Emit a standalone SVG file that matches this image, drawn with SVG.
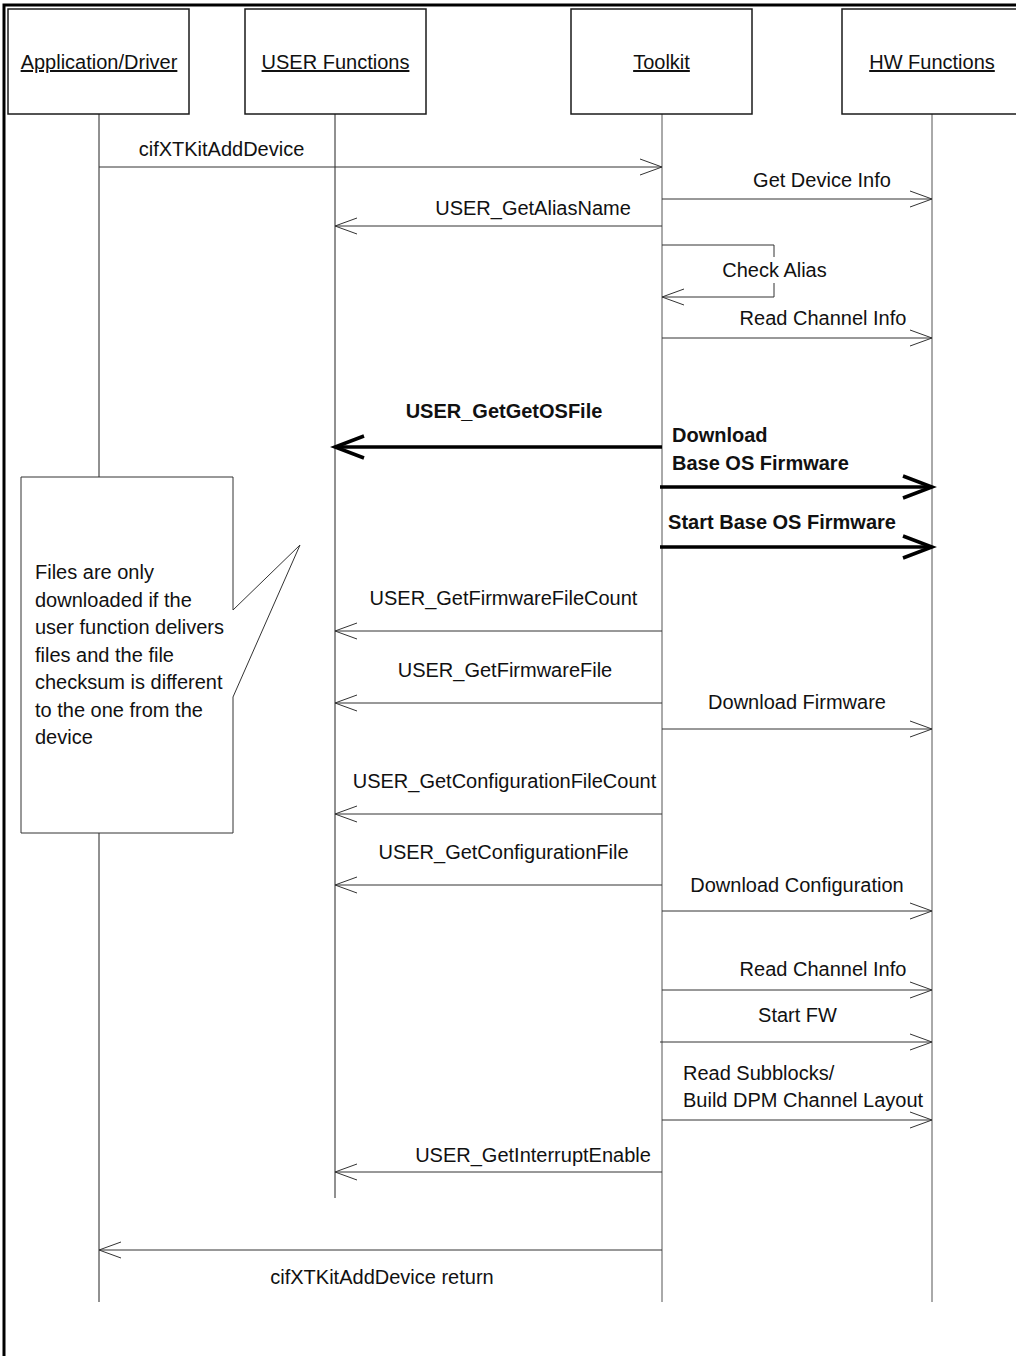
<svg xmlns="http://www.w3.org/2000/svg" width="1016" height="1356" viewBox="0 0 1016 1356">
<style>
text{font-family:"Liberation Sans",Arial,sans-serif;font-size:20px;fill:#111}
.hdr{fill:#fff;stroke:#1a1a1a;stroke-width:1.5}
.life{stroke:#555;stroke-width:1;fill:none}
.msg{stroke:#333;stroke-width:1;fill:none;marker-end:url(#a)}
.bold{stroke:#000;stroke-width:3.5;fill:none;marker-end:url(#b)}
.lbl{text-anchor:middle}
.b{font-weight:bold}
.u{text-decoration:underline;text-anchor:middle}
</style>
<defs>
<marker id="a" markerUnits="userSpaceOnUse" markerWidth="26" markerHeight="20" refX="22" refY="8" orient="auto" overflow="visible">
<path d="M0,0 L22,8 L0,16" fill="none" stroke="#333" stroke-width="1"/>
</marker>
<marker id="b" markerUnits="userSpaceOnUse" markerWidth="34" markerHeight="28" refX="29" refY="11" orient="auto" overflow="visible">
<path d="M0,0 L29,11 L0,22" fill="none" stroke="#000" stroke-width="3.5"/>
</marker>
</defs>
<rect x="0" y="0" width="1016" height="1356" fill="#fff"/>
<rect x="4" y="5" width="1040" height="1400" fill="none" stroke="#000" stroke-width="3"/>

<g id="app">
<line class="life" x1="99" y1="114" x2="99" y2="1302" style="stroke:#222"/>
<rect class="hdr" x="8" y="9" width="181" height="105"/>
<text class="u" x="99" y="69">Application/Driver</text>
</g>
<g id="user">
<line class="life" x1="335" y1="114" x2="335" y2="1198" style="stroke:#222"/>
<rect class="hdr" x="245" y="9" width="181" height="105"/>
<text class="u" x="335.5" y="69">USER Functions</text>
</g>
<g id="toolkit">
<line class="life" x1="662" y1="114" x2="662" y2="1302"/>
<rect class="hdr" x="571" y="9" width="181" height="105"/>
<text class="u" x="661.5" y="69">Toolkit</text>
</g>
<g id="hw">
<line class="life" x1="932" y1="114" x2="932" y2="1302"/>
<rect class="hdr" x="842" y="9" width="181" height="105"/>
<text class="u" x="932" y="69">HW Functions</text>
</g>

<g id="note">
<path d="M21,477 H233 V610 L300,545 L233,697 V833 H21 Z" fill="#fff" stroke="#333" stroke-width="1"/>
<text x="35" y="579">Files are only</text>
<text x="35" y="606.5">downloaded if the</text>
<text x="35" y="634">user function delivers</text>
<text x="35" y="661.5">files and the file</text>
<text x="35" y="689">checksum is different</text>
<text x="35" y="716.5">to the one from the</text>
<text x="35" y="744">device</text>
</g>

<g id="connectors">
<line class="msg" x1="99" y1="167" x2="662" y2="167"/>
<text class="lbl" x="221.5" y="156">cifXTKitAddDevice</text>

<line class="msg" x1="662" y1="199" x2="932" y2="199"/>
<text class="lbl" x="822" y="187">Get Device Info</text>

<line class="msg" x1="662" y1="226" x2="335" y2="226"/>
<text class="lbl" x="533" y="215">USER_GetAliasName</text>

<path class="msg" d="M662,245 H774 V297 H662"/>
<rect x="720" y="257" width="110" height="26" fill="#fff"/>
<text class="lbl" x="774.5" y="277">Check Alias</text>

<line class="msg" x1="662" y1="338" x2="932" y2="338"/>
<text class="lbl" x="823" y="325">Read Channel Info</text>

<line class="bold" x1="662" y1="447" x2="335" y2="447"/>
<text class="lbl b" x="504" y="418">USER_GetGetOSFile</text>

<line class="bold" x1="660" y1="487" x2="932" y2="487"/>
<text class="b" x="672" y="442">Download</text>
<text class="b" x="672" y="470">Base OS Firmware</text>

<line class="bold" x1="660" y1="547" x2="932" y2="547"/>
<text class="lbl b" x="782" y="529">Start Base OS Firmware</text>

<line class="msg" x1="662" y1="631" x2="335" y2="631"/>
<text class="lbl" x="503.5" y="605">USER_GetFirmwareFileCount</text>

<line class="msg" x1="662" y1="703" x2="335" y2="703"/>
<text class="lbl" x="505" y="677">USER_GetFirmwareFile</text>

<line class="msg" x1="662" y1="729" x2="932" y2="729"/>
<text class="lbl" x="797" y="709">Download Firmware</text>

<line class="msg" x1="662" y1="814" x2="335" y2="814"/>
<text class="lbl" x="504.5" y="788">USER_GetConfigurationFileCount</text>

<line class="msg" x1="662" y1="885" x2="335" y2="885"/>
<text class="lbl" x="503.5" y="859">USER_GetConfigurationFile</text>

<line class="msg" x1="662" y1="911" x2="932" y2="911"/>
<text class="lbl" x="797" y="892">Download Configuration</text>

<line class="msg" x1="662" y1="990" x2="932" y2="990"/>
<text class="lbl" x="823" y="976">Read Channel Info</text>

<line class="msg" x1="660" y1="1042" x2="932" y2="1042"/>
<text class="lbl" x="797.5" y="1022">Start FW</text>

<line class="msg" x1="662" y1="1120" x2="932" y2="1120"/>
<text x="683" y="1080">Read Subblocks/</text>
<text x="683" y="1107">Build DPM Channel Layout</text>

<line class="msg" x1="662" y1="1172" x2="335" y2="1172"/>
<text class="lbl" x="533" y="1162">USER_GetInterruptEnable</text>

<line class="msg" x1="662" y1="1250" x2="99" y2="1250"/>
<text class="lbl" x="382" y="1284">cifXTKitAddDevice return</text>
</g>
</svg>
